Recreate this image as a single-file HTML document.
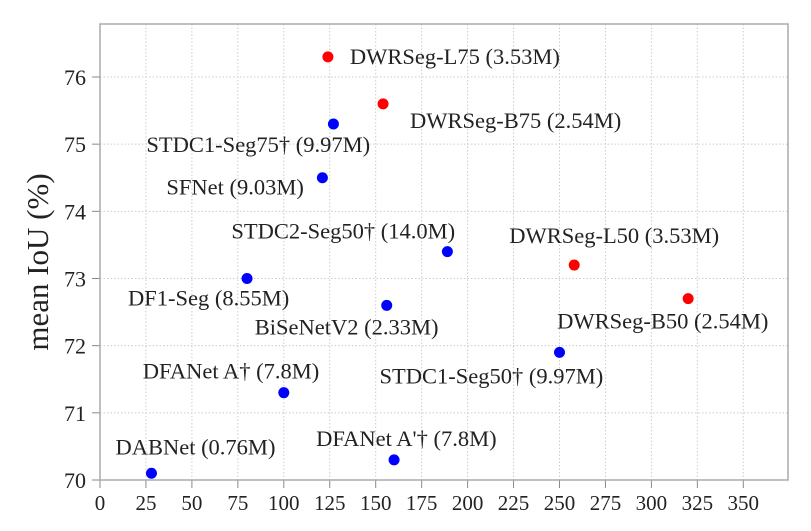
<!DOCTYPE html>
<html><head><meta charset="utf-8"><style>
html,body{margin:0;padding:0;background:#fff;}
svg text{font-family:"Liberation Serif",serif;fill:#222;}
</style></head><body>
<svg id="chart" width="811" height="526" viewBox="0 0 811 526">
<g id="grid"></g>
<g id="axes"></g>
<g id="marks"></g>
<g id="labels"></g>
<text x="48" y="262" font-size="31" text-anchor="middle" transform="rotate(-90 48 262)">mean IoU (%)</text>
</svg>
<script>
const names = ["DWRSeg-L75 (3.53M)","DWRSeg-B75 (2.54M)","STDC1-Seg75† (9.97M)","SFNet (9.03M)","STDC2-Seg50† (14.0M)","DWRSeg-L50 (3.53M)","DWRSeg-B50 (2.54M)","DF1-Seg (8.55M)","BiSeNetV2 (2.33M)","STDC1-Seg50† (9.97M)","DFANet A† (7.8M)","DABNet (0.76M)","DFANet A'† (7.8M)"];
const speeds = [124,154,127,121,189,258,320,80,156,250,100,28,160];
const mious = [76.3,75.6,75.3,74.5,73.4,73.2,72.7,73.0,72.6,71.9,71.3,70.1,70.3];
const isOurs = [1,1,0,0,0,1,1,0,0,0,0,0,0];
const xTicks = [0,25,50,75,100,125,150,175,200,225,250,275,300,325,350];
const yTicks = [70,71,72,73,74,75,76];
// label offsets (layout only): start-x and baseline offset from point
const ldx = [22,27,-187,-156,-216,-65,-131,-119,-132,-180,-141,-36,-78];
const ldy = [7,24,28,17,-13,-22,30,27,29,31,-14,-19,-14];

const X0=100, PX=(743.3-100)/350, Y70=480, PY=67.17;
const xs = v => X0 + v*PX;
const ys = v => Y70 - (v-70)*PY;
const NS="http://www.w3.org/2000/svg";
function mk(tag, attrs, parent){const e=document.createElementNS(NS,tag);for(const k in attrs)e.setAttribute(k,attrs[k]);parent.appendChild(e);return e;}
const grid=document.getElementById('grid'), axes=document.getElementById('axes'), marks=document.getElementById('marks'), labels=document.getElementById('labels');
const L=100,R=788,T=24,B=480;
xTicks.forEach(t=>{
  const x=xs(t);
  if(t>0){const g=mk('line',{x1:x,x2:x,y1:T,y2:B,stroke:'#ccc','stroke-width':1,'stroke-dasharray':'1.5,2'},grid);
  
  }
  const tk=mk('line',{x1:x,x2:x,y1:B,y2:B+8,stroke:'#888','stroke-width':1},axes);
  
  
  const tx=mk('text',{x:x,y:B+30,'font-size':21,'text-anchor':'middle'},axes);
  tx.textContent=t;
  
  
});
yTicks.forEach(t=>{
  const y=ys(t);
  if(t>70){const g=mk('line',{x1:L,x2:R,y1:y,y2:y,stroke:'#ccc','stroke-width':1,'stroke-dasharray':'1.5,2'},grid);
  
  }
  const tk=mk('line',{x1:L-8,x2:L,y1:y,y2:y,stroke:'#888','stroke-width':1},axes);
  
  
  const tx=mk('text',{x:L-14,y:y+8,'font-size':22,'text-anchor':'end'},axes);
  tx.textContent=t;
  
  
});
const fr=mk('rect',{x:L,y:T,width:R-L,height:B-T,fill:'none',stroke:'#aaa','stroke-width':1.5},axes);


names.forEach((n,i)=>{
  const cx=xs(speeds[i]), cy=ys(mious[i]);
  const c=mk('circle',{cx:cx,cy:cy,r:5.5,fill:isOurs[i]?'#f00':'#00f'},marks);
  
  
  const t=mk('text',{x:cx+ldx[i],y:cy+ldy[i],'font-size':22.5},labels);
  t.textContent=n;
  
  
});
</script>
</body></html>
